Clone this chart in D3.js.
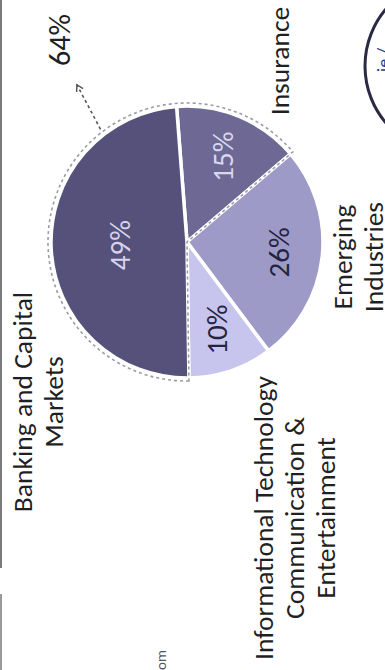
<!DOCTYPE html>
<html>
<head>
<meta charset="utf-8">
<script src="https://cdn.jsdelivr.net/npm/d3@7"></script>
<style>
  html, body { margin: 0; padding: 0; background: #fff; }
  svg { display: block; }
  text { font-family: Carlito, Calibri, Lato, "Open Sans", sans-serif; fill: #1f1f24; }
</style>
</head>
<body>
<svg id="chart" width="385" height="670"></svg>
<script>
// Share of business by industry (percent), clockwise from Insurance
const categories = ["Insurance", "Emerging Industries",
  "Informational Technology Communication & Entertainment", "Banking and Capital Markets"];
const shares = [15, 26, 10, 49];
const shareLabels = ["15%", "26%", "10%", "49%"];
// Grouped share (Banking and Capital Markets + Insurance)
const groupMembers = ["Banking and Capital Markets", "Insurance"];
const groupLabel = "64%";
// Category captions broken into lines
const captionLines = [
  ["Insurance"],
  ["Emerging", "Industries"],
  ["Informational Technology", "Communication &", "Entertainment"],
  ["Banking and Capital", "Markets"]
];
const sliceColors = ["#6d6994", "#9d9ac8", "#c7c5ed", "#55517b"];
const valueColors = ["#d9d7ee", "#25233d", "#25233d", "#d6d4ec"];

const W = 670, H = 385;           // page is laid out landscape, then turned
const svg = d3.select("#chart");
const g = svg.append("g").attr("transform", `translate(0,${W}) rotate(-90)`);

// frame rule along the top edge
g.append("line").attr("x1", 102).attr("x2", W).attr("y1", 1).attr("y2", 1)
  .attr("stroke", "#7a7a7a").attr("stroke-width", 2);
g.append("line").attr("x1", 0).attr("x2", 76).attr("y1", 1).attr("y2", 1)
  .attr("stroke", "#9a9a9a").attr("stroke-width", 2);

const cx = 428, cy = 187, R = 136;
const deg = Math.PI / 180;
const a0 = 85.6 * deg;

const pie = d3.pie().sort(null).value(d => d).startAngle(a0).endAngle(a0 + 2 * Math.PI);
const arcs = pie(shares);
const arc = d3.arc().innerRadius(0).outerRadius(R);

const pieG = g.append("g").attr("transform", `translate(${cx},${cy})`);

pieG.selectAll("path.slice").data(arcs).join("path")
  .attr("class", "slice")
  .attr("d", arc)
  .attr("fill", (d, i) => sliceColors[i])
  .attr("stroke", "#fff").attr("stroke-width", 3.5).attr("stroke-linejoin", "round");

// dashed outline around the grouped slices
const idxA = categories.indexOf(groupMembers[0]);
const idxB = categories.indexOf(groupMembers[1]);
const outline = d3.arc().innerRadius(0).outerRadius(R + 3)({
  startAngle: arcs[idxA].startAngle,
  endAngle: arcs[idxB].endAngle + 2 * Math.PI
});
pieG.append("path").attr("d", outline)
  .attr("fill", "none").attr("stroke", "#9b9aa8").attr("stroke-width", 1.6)
  .attr("stroke-dasharray", "3,3");

// value labels
const labelArc = d => {
  const r = d.data > 40 ? R * 0.5 : R * 0.68;
  return d3.arc().innerRadius(r).outerRadius(r).centroid(d);
};
pieG.selectAll("text.val").data(arcs).join("text")
  .attr("class", "val")
  .attr("x", d => labelArc(d)[0])
  .attr("y", d => labelArc(d)[1])
  .attr("dy", "0.36em")
  .attr("text-anchor", "middle")
  .style("font-size", "29px")
  .style("fill", (d, i) => valueColors[i])
  .text((d, i) => shareLabels[i]);

// pointer from the grouped slices to their combined share
const polar = (a, r) => [cx + r * Math.sin(a), cy - r * Math.cos(a)];
const p1 = polar(52.5 * deg, R + 6), p2 = polar(55 * deg, R + 56);
g.append("defs").append("marker")
  .attr("id", "head").attr("viewBox", "0 0 10 10").attr("refX", 8).attr("refY", 5)
  .attr("markerWidth", 9).attr("markerHeight", 9).attr("orient", "auto")
  .attr("markerUnits", "userSpaceOnUse")
  .append("path").attr("d", "M1,1 L8,5 L1,9")
  .attr("fill", "none").attr("stroke", "#55555e").attr("stroke-width", 1.6);
g.append("line")
  .attr("x1", p1[0]).attr("y1", p1[1]).attr("x2", p2[0]).attr("y2", p2[1])
  .attr("stroke", "#55555e").attr("stroke-width", 1.6).attr("stroke-dasharray", "3,3")
  .attr("marker-end", "url(#head)");
g.append("text").attr("x", cx + 202).attr("y", 70).attr("text-anchor", "middle")
  .style("font-size", "30px").text(groupLabel);

// category captions, placed around the pie
const captionAnchor = [
  [cx + 181, cy + 102],
  [cx - 15, cy + 165],
  [cx - 276, cy + 86],
  [cx - 160, cy - 155]
];
const lineGap = 31;
captionLines.forEach((lines, i) => {
  const t = g.append("text").attr("text-anchor", "middle")
    .attr("x", captionAnchor[i][0]).attr("y", captionAnchor[i][1])
    .style("font-size", "27.5px");
  lines.forEach((s, k) => t.append("tspan")
    .attr("x", captionAnchor[i][0]).attr("dy", k ? lineGap : 0).text(s));
});

// cut-off source note
g.append("text").attr("x", 20).attr("y", 166).attr("text-anchor", "end")
  .style("font-size", "15px").style("fill", "#555").text("om");

// seal at the page corner
g.append("circle").attr("cx", 604).attr("cy", 453).attr("r", 88)
  .attr("fill", "none").attr("stroke", "#2a2a44").attr("stroke-width", 3);
g.append("text").attr("x", 598).attr("y", 390)
  .style("font-size", "18px").style("fill", "#2b3a86").text("ie /");
</script>
</body>
</html>
